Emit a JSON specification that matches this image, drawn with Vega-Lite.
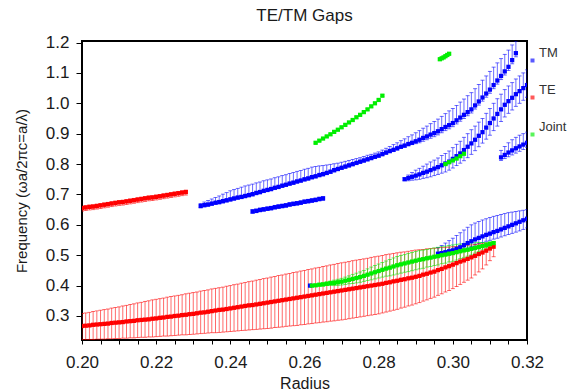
{
"$schema": "https://vega.github.io/schema/vega-lite/v6.json",
"width": 445, "height": 299,
"autosize": "none",
"padding": {"left": 82, "top": 41, "right": 45, "bottom": 52},
"background": "white",
"title": {"text": "TE/TM Gaps", "fontSize": 17, "fontWeight": "normal", "font": "Liberation Sans", "color": "#1a1a1a", "offset": 9},
"config": {"view": {"stroke": "#000", "strokeWidth": 2}, "font": "Liberation Sans",
  "legend": {"padding": 0, "symbolType": "square", "symbolSize": 16, "symbolStrokeWidth": 0,
    "labelFont": "Liberation Sans", "labelFontSize": 13, "labelColor": "#333", "labelLimit": 0},
  "axisY": {"grid": false, "domain": false,
    "values": [0.25,0.3,0.35,0.4,0.45,0.5,0.55,0.6,0.65,0.7,0.75,0.8,0.85,0.9,0.95,1.0,1.05,1.1,1.15,1.2],
    "labelExpr": "abs(datum.value*10 - round(datum.value*10)) < 0.001 && datum.value > 0.27 ? format(datum.value, '.1f') : ''",
    "labelOverlap": false, "labelFlush": false,
    "tickSize": {"condition": {"test": "abs(datum.value*10 - round(datum.value*10)) < 0.001", "value": 6}, "value": 3},
    "tickColor": "#000", "tickWidth": 1,
    "labelFont": "Liberation Sans", "labelFontSize": 17, "labelColor": "#1a1a1a", "labelPadding": 7,
    "titleFont": "Liberation Sans", "titleFontSize": 15, "titleFontWeight": "normal", "titleColor": "#1a1a1a", "titlePadding": 16}},
"data": {"values": [
{"s":"TE","x":0.200,"y":0.267,"lo":0.222,"hi":0.308},
{"s":"TE","x":0.201,"y":0.268,"lo":0.222,"hi":0.310},
{"s":"TE","x":0.202,"y":0.269,"lo":0.223,"hi":0.312},
{"s":"TE","x":0.203,"y":0.271,"lo":0.223,"hi":0.315},
{"s":"TE","x":0.204,"y":0.272,"lo":0.224,"hi":0.317},
{"s":"TE","x":0.205,"y":0.273,"lo":0.224,"hi":0.319},
{"s":"TE","x":0.206,"y":0.274,"lo":0.224,"hi":0.321},
{"s":"TE","x":0.207,"y":0.275,"lo":0.225,"hi":0.323},
{"s":"TE","x":0.208,"y":0.277,"lo":0.225,"hi":0.326},
{"s":"TE","x":0.209,"y":0.278,"lo":0.226,"hi":0.328},
{"s":"TE","x":0.210,"y":0.279,"lo":0.226,"hi":0.330},
{"s":"TE","x":0.211,"y":0.280,"lo":0.227,"hi":0.333},
{"s":"TE","x":0.212,"y":0.282,"lo":0.227,"hi":0.335},
{"s":"TE","x":0.213,"y":0.283,"lo":0.228,"hi":0.338},
{"s":"TE","x":0.214,"y":0.284,"lo":0.228,"hi":0.340},
{"s":"TE","x":0.215,"y":0.286,"lo":0.229,"hi":0.343},
{"s":"TE","x":0.216,"y":0.287,"lo":0.230,"hi":0.345},
{"s":"TE","x":0.217,"y":0.288,"lo":0.230,"hi":0.348},
{"s":"TE","x":0.218,"y":0.289,"lo":0.231,"hi":0.350},
{"s":"TE","x":0.219,"y":0.291,"lo":0.231,"hi":0.353},
{"s":"TE","x":0.220,"y":0.292,"lo":0.232,"hi":0.355},
{"s":"TE","x":0.221,"y":0.294,"lo":0.233,"hi":0.357},
{"s":"TE","x":0.222,"y":0.295,"lo":0.234,"hi":0.359},
{"s":"TE","x":0.223,"y":0.297,"lo":0.234,"hi":0.362},
{"s":"TE","x":0.224,"y":0.298,"lo":0.235,"hi":0.364},
{"s":"TE","x":0.225,"y":0.300,"lo":0.236,"hi":0.366},
{"s":"TE","x":0.226,"y":0.301,"lo":0.237,"hi":0.368},
{"s":"TE","x":0.227,"y":0.303,"lo":0.238,"hi":0.370},
{"s":"TE","x":0.228,"y":0.304,"lo":0.238,"hi":0.373},
{"s":"TE","x":0.229,"y":0.306,"lo":0.239,"hi":0.375},
{"s":"TE","x":0.230,"y":0.307,"lo":0.240,"hi":0.377},
{"s":"TE","x":0.231,"y":0.309,"lo":0.241,"hi":0.379},
{"s":"TE","x":0.232,"y":0.311,"lo":0.242,"hi":0.382},
{"s":"TE","x":0.233,"y":0.312,"lo":0.243,"hi":0.384},
{"s":"TE","x":0.234,"y":0.314,"lo":0.244,"hi":0.386},
{"s":"TE","x":0.235,"y":0.316,"lo":0.245,"hi":0.389},
{"s":"TE","x":0.236,"y":0.318,"lo":0.245,"hi":0.391},
{"s":"TE","x":0.237,"y":0.320,"lo":0.246,"hi":0.393},
{"s":"TE","x":0.238,"y":0.321,"lo":0.247,"hi":0.395},
{"s":"TE","x":0.239,"y":0.323,"lo":0.248,"hi":0.398},
{"s":"TE","x":0.240,"y":0.325,"lo":0.249,"hi":0.400},
{"s":"TE","x":0.241,"y":0.327,"lo":0.250,"hi":0.403},
{"s":"TE","x":0.242,"y":0.329,"lo":0.251,"hi":0.405},
{"s":"TE","x":0.243,"y":0.331,"lo":0.252,"hi":0.408},
{"s":"TE","x":0.244,"y":0.333,"lo":0.253,"hi":0.410},
{"s":"TE","x":0.245,"y":0.335,"lo":0.254,"hi":0.413},
{"s":"TE","x":0.246,"y":0.336,"lo":0.255,"hi":0.415},
{"s":"TE","x":0.247,"y":0.338,"lo":0.256,"hi":0.418},
{"s":"TE","x":0.248,"y":0.340,"lo":0.257,"hi":0.420},
{"s":"TE","x":0.249,"y":0.342,"lo":0.258,"hi":0.423},
{"s":"TE","x":0.250,"y":0.344,"lo":0.259,"hi":0.425},
{"s":"TE","x":0.251,"y":0.346,"lo":0.260,"hi":0.428},
{"s":"TE","x":0.252,"y":0.348,"lo":0.262,"hi":0.430},
{"s":"TE","x":0.253,"y":0.350,"lo":0.263,"hi":0.433},
{"s":"TE","x":0.254,"y":0.352,"lo":0.264,"hi":0.435},
{"s":"TE","x":0.255,"y":0.354,"lo":0.266,"hi":0.438},
{"s":"TE","x":0.256,"y":0.356,"lo":0.267,"hi":0.440},
{"s":"TE","x":0.257,"y":0.358,"lo":0.268,"hi":0.443},
{"s":"TE","x":0.258,"y":0.360,"lo":0.269,"hi":0.445},
{"s":"TE","x":0.259,"y":0.362,"lo":0.271,"hi":0.448},
{"s":"TE","x":0.260,"y":0.364,"lo":0.272,"hi":0.450},
{"s":"TE","x":0.261,"y":0.366,"lo":0.274,"hi":0.453},
{"s":"TE","x":0.262,"y":0.368,"lo":0.275,"hi":0.455},
{"s":"TE","x":0.263,"y":0.370,"lo":0.277,"hi":0.458},
{"s":"TE","x":0.264,"y":0.372,"lo":0.278,"hi":0.460},
{"s":"TE","x":0.265,"y":0.374,"lo":0.280,"hi":0.463},
{"s":"TE","x":0.266,"y":0.376,"lo":0.281,"hi":0.465},
{"s":"TE","x":0.267,"y":0.378,"lo":0.283,"hi":0.468},
{"s":"TE","x":0.268,"y":0.380,"lo":0.284,"hi":0.470},
{"s":"TE","x":0.269,"y":0.382,"lo":0.286,"hi":0.473},
{"s":"TE","x":0.270,"y":0.384,"lo":0.287,"hi":0.475},
{"s":"TE","x":0.271,"y":0.386,"lo":0.289,"hi":0.477},
{"s":"TE","x":0.272,"y":0.388,"lo":0.291,"hi":0.479},
{"s":"TE","x":0.273,"y":0.390,"lo":0.293,"hi":0.482},
{"s":"TE","x":0.274,"y":0.392,"lo":0.295,"hi":0.484},
{"s":"TE","x":0.275,"y":0.394,"lo":0.297,"hi":0.486},
{"s":"TE","x":0.276,"y":0.396,"lo":0.299,"hi":0.488},
{"s":"TE","x":0.277,"y":0.398,"lo":0.301,"hi":0.490},
{"s":"TE","x":0.278,"y":0.400,"lo":0.303,"hi":0.493},
{"s":"TE","x":0.279,"y":0.402,"lo":0.305,"hi":0.495},
{"s":"TE","x":0.280,"y":0.404,"lo":0.307,"hi":0.497},
{"s":"TE","x":0.281,"y":0.406,"lo":0.310,"hi":0.499},
{"s":"TE","x":0.282,"y":0.409,"lo":0.313,"hi":0.502},
{"s":"TE","x":0.283,"y":0.411,"lo":0.316,"hi":0.504},
{"s":"TE","x":0.284,"y":0.414,"lo":0.319,"hi":0.506},
{"s":"TE","x":0.285,"y":0.416,"lo":0.322,"hi":0.508},
{"s":"TE","x":0.286,"y":0.419,"lo":0.326,"hi":0.510},
{"s":"TE","x":0.287,"y":0.421,"lo":0.329,"hi":0.511},
{"s":"TE","x":0.288,"y":0.424,"lo":0.333,"hi":0.513},
{"s":"TE","x":0.289,"y":0.426,"lo":0.336,"hi":0.515},
{"s":"TE","x":0.290,"y":0.429,"lo":0.340,"hi":0.517},
{"s":"TE","x":0.291,"y":0.432,"lo":0.344,"hi":0.518},
{"s":"TE","x":0.292,"y":0.436,"lo":0.349,"hi":0.519},
{"s":"TE","x":0.293,"y":0.439,"lo":0.353,"hi":0.521},
{"s":"TE","x":0.294,"y":0.443,"lo":0.358,"hi":0.522},
{"s":"TE","x":0.295,"y":0.446,"lo":0.362,"hi":0.523},
{"s":"TE","x":0.296,"y":0.451,"lo":0.368,"hi":0.524},
{"s":"TE","x":0.297,"y":0.455,"lo":0.373,"hi":0.525},
{"s":"TE","x":0.298,"y":0.460,"lo":0.379,"hi":0.526},
{"s":"TE","x":0.299,"y":0.464,"lo":0.384,"hi":0.527},
{"s":"TE","x":0.300,"y":0.469,"lo":0.390,"hi":0.528},
{"s":"TE","x":0.301,"y":0.474,"lo":0.397,"hi":0.529},
{"s":"TE","x":0.302,"y":0.479,"lo":0.404,"hi":0.530},
{"s":"TE","x":0.303,"y":0.483,"lo":0.411,"hi":0.532},
{"s":"TE","x":0.304,"y":0.488,"lo":0.418,"hi":0.533},
{"s":"TE","x":0.305,"y":0.493,"lo":0.425,"hi":0.534},
{"s":"TE","x":0.306,"y":0.498,"lo":0.435,"hi":0.535},
{"s":"TE","x":0.307,"y":0.504,"lo":0.445,"hi":0.537},
{"s":"TE","x":0.308,"y":0.509,"lo":0.455,"hi":0.538},
{"s":"TE","x":0.309,"y":0.515,"lo":0.468,"hi":0.540},
{"s":"TE","x":0.310,"y":0.522,"lo":0.482,"hi":0.541},
{"s":"TE","x":0.311,"y":0.528,"lo":0.495,"hi":0.543},
{"s":"TE","x":0.200,"y":0.655,"lo":0.645,"hi":0.661},
{"s":"TE","x":0.201,"y":0.657,"lo":0.647,"hi":0.663},
{"s":"TE","x":0.202,"y":0.659,"lo":0.649,"hi":0.665},
{"s":"TE","x":0.203,"y":0.660,"lo":0.650,"hi":0.666},
{"s":"TE","x":0.204,"y":0.662,"lo":0.652,"hi":0.668},
{"s":"TE","x":0.205,"y":0.664,"lo":0.654,"hi":0.670},
{"s":"TE","x":0.206,"y":0.666,"lo":0.656,"hi":0.672},
{"s":"TE","x":0.207,"y":0.668,"lo":0.658,"hi":0.674},
{"s":"TE","x":0.208,"y":0.670,"lo":0.660,"hi":0.676},
{"s":"TE","x":0.209,"y":0.672,"lo":0.662,"hi":0.678},
{"s":"TE","x":0.210,"y":0.674,"lo":0.664,"hi":0.680},
{"s":"TE","x":0.211,"y":0.675,"lo":0.665,"hi":0.681},
{"s":"TE","x":0.212,"y":0.677,"lo":0.667,"hi":0.683},
{"s":"TE","x":0.213,"y":0.679,"lo":0.669,"hi":0.685},
{"s":"TE","x":0.214,"y":0.681,"lo":0.671,"hi":0.687},
{"s":"TE","x":0.215,"y":0.683,"lo":0.673,"hi":0.689},
{"s":"TE","x":0.216,"y":0.685,"lo":0.675,"hi":0.691},
{"s":"TE","x":0.217,"y":0.687,"lo":0.677,"hi":0.693},
{"s":"TE","x":0.218,"y":0.689,"lo":0.679,"hi":0.695},
{"s":"TE","x":0.219,"y":0.690,"lo":0.680,"hi":0.696},
{"s":"TE","x":0.220,"y":0.692,"lo":0.682,"hi":0.698},
{"s":"TE","x":0.221,"y":0.694,"lo":0.684,"hi":0.700},
{"s":"TE","x":0.222,"y":0.696,"lo":0.686,"hi":0.702},
{"s":"TE","x":0.223,"y":0.698,"lo":0.688,"hi":0.704},
{"s":"TE","x":0.224,"y":0.700,"lo":0.690,"hi":0.706},
{"s":"TE","x":0.225,"y":0.702,"lo":0.692,"hi":0.708},
{"s":"TE","x":0.226,"y":0.704,"lo":0.694,"hi":0.710},
{"s":"TE","x":0.227,"y":0.706,"lo":0.696,"hi":0.712},
{"s":"TE","x":0.228,"y":0.708,"lo":0.698,"hi":0.714},
{"s":"TM","x":0.232,"y":0.662,"lo":0.656,"hi":0.670},
{"s":"TM","x":0.233,"y":0.665,"lo":0.659,"hi":0.675},
{"s":"TM","x":0.234,"y":0.667,"lo":0.661,"hi":0.680},
{"s":"TM","x":0.235,"y":0.670,"lo":0.664,"hi":0.685},
{"s":"TM","x":0.236,"y":0.673,"lo":0.667,"hi":0.690},
{"s":"TM","x":0.237,"y":0.675,"lo":0.669,"hi":0.695},
{"s":"TM","x":0.238,"y":0.678,"lo":0.672,"hi":0.701},
{"s":"TM","x":0.239,"y":0.681,"lo":0.675,"hi":0.706},
{"s":"TM","x":0.240,"y":0.684,"lo":0.678,"hi":0.712},
{"s":"TM","x":0.241,"y":0.687,"lo":0.681,"hi":0.716},
{"s":"TM","x":0.242,"y":0.690,"lo":0.684,"hi":0.720},
{"s":"TM","x":0.243,"y":0.692,"lo":0.686,"hi":0.724},
{"s":"TM","x":0.244,"y":0.695,"lo":0.689,"hi":0.728},
{"s":"TM","x":0.245,"y":0.698,"lo":0.692,"hi":0.731},
{"s":"TM","x":0.246,"y":0.701,"lo":0.695,"hi":0.734},
{"s":"TM","x":0.247,"y":0.705,"lo":0.699,"hi":0.738},
{"s":"TM","x":0.248,"y":0.708,"lo":0.702,"hi":0.741},
{"s":"TM","x":0.249,"y":0.712,"lo":0.706,"hi":0.745},
{"s":"TM","x":0.250,"y":0.715,"lo":0.709,"hi":0.748},
{"s":"TM","x":0.251,"y":0.718,"lo":0.712,"hi":0.751},
{"s":"TM","x":0.252,"y":0.722,"lo":0.716,"hi":0.755},
{"s":"TM","x":0.253,"y":0.725,"lo":0.719,"hi":0.758},
{"s":"TM","x":0.254,"y":0.729,"lo":0.723,"hi":0.762},
{"s":"TM","x":0.255,"y":0.732,"lo":0.726,"hi":0.765},
{"s":"TM","x":0.256,"y":0.736,"lo":0.730,"hi":0.769},
{"s":"TM","x":0.257,"y":0.739,"lo":0.733,"hi":0.772},
{"s":"TM","x":0.258,"y":0.743,"lo":0.737,"hi":0.776},
{"s":"TM","x":0.259,"y":0.746,"lo":0.740,"hi":0.779},
{"s":"TM","x":0.260,"y":0.750,"lo":0.744,"hi":0.783},
{"s":"TM","x":0.261,"y":0.753,"lo":0.747,"hi":0.786},
{"s":"TM","x":0.262,"y":0.757,"lo":0.751,"hi":0.790},
{"s":"TM","x":0.263,"y":0.760,"lo":0.754,"hi":0.792},
{"s":"TM","x":0.264,"y":0.764,"lo":0.758,"hi":0.794},
{"s":"TM","x":0.265,"y":0.767,"lo":0.761,"hi":0.795},
{"s":"TM","x":0.266,"y":0.771,"lo":0.765,"hi":0.797},
{"s":"TM","x":0.267,"y":0.775,"lo":0.769,"hi":0.799},
{"s":"TM","x":0.268,"y":0.780,"lo":0.774,"hi":0.801},
{"s":"TM","x":0.269,"y":0.784,"lo":0.778,"hi":0.803},
{"s":"TM","x":0.270,"y":0.788,"lo":0.782,"hi":0.806},
{"s":"TM","x":0.271,"y":0.792,"lo":0.786,"hi":0.809},
{"s":"TM","x":0.272,"y":0.796,"lo":0.790,"hi":0.812},
{"s":"TM","x":0.273,"y":0.800,"lo":0.794,"hi":0.815},
{"s":"TM","x":0.274,"y":0.804,"lo":0.798,"hi":0.818},
{"s":"TM","x":0.275,"y":0.808,"lo":0.802,"hi":0.821},
{"s":"TM","x":0.276,"y":0.812,"lo":0.806,"hi":0.825},
{"s":"TM","x":0.277,"y":0.816,"lo":0.810,"hi":0.829},
{"s":"TM","x":0.278,"y":0.820,"lo":0.814,"hi":0.832},
{"s":"TM","x":0.279,"y":0.824,"lo":0.818,"hi":0.836},
{"s":"TM","x":0.280,"y":0.828,"lo":0.822,"hi":0.840},
{"s":"TM","x":0.281,"y":0.833,"lo":0.827,"hi":0.846},
{"s":"TM","x":0.282,"y":0.838,"lo":0.832,"hi":0.852},
{"s":"TM","x":0.283,"y":0.843,"lo":0.837,"hi":0.858},
{"s":"TM","x":0.284,"y":0.847,"lo":0.841,"hi":0.864},
{"s":"TM","x":0.285,"y":0.852,"lo":0.846,"hi":0.870},
{"s":"TM","x":0.286,"y":0.857,"lo":0.851,"hi":0.877},
{"s":"TM","x":0.287,"y":0.861,"lo":0.855,"hi":0.883},
{"s":"TM","x":0.288,"y":0.866,"lo":0.860,"hi":0.890},
{"s":"TM","x":0.289,"y":0.870,"lo":0.864,"hi":0.896},
{"s":"TM","x":0.290,"y":0.875,"lo":0.867,"hi":0.903},
{"s":"TM","x":0.291,"y":0.880,"lo":0.870,"hi":0.910},
{"s":"TM","x":0.292,"y":0.886,"lo":0.875,"hi":0.918},
{"s":"TM","x":0.293,"y":0.891,"lo":0.880,"hi":0.925},
{"s":"TM","x":0.294,"y":0.897,"lo":0.885,"hi":0.933},
{"s":"TM","x":0.295,"y":0.902,"lo":0.890,"hi":0.940},
{"s":"TM","x":0.296,"y":0.908,"lo":0.896,"hi":0.948},
{"s":"TM","x":0.297,"y":0.915,"lo":0.903,"hi":0.957},
{"s":"TM","x":0.298,"y":0.922,"lo":0.910,"hi":0.966},
{"s":"TM","x":0.299,"y":0.928,"lo":0.916,"hi":0.975},
{"s":"TM","x":0.300,"y":0.935,"lo":0.923,"hi":0.983},
{"s":"TM","x":0.301,"y":0.944,"lo":0.932,"hi":0.993},
{"s":"TM","x":0.302,"y":0.953,"lo":0.941,"hi":1.004},
{"s":"TM","x":0.303,"y":0.962,"lo":0.950,"hi":1.014},
{"s":"TM","x":0.304,"y":0.971,"lo":0.959,"hi":1.025},
{"s":"TM","x":0.305,"y":0.980,"lo":0.968,"hi":1.035},
{"s":"TM","x":0.306,"y":0.993,"lo":0.981,"hi":1.048},
{"s":"TM","x":0.307,"y":1.006,"lo":0.994,"hi":1.062},
{"s":"TM","x":0.308,"y":1.019,"lo":1.007,"hi":1.076},
{"s":"TM","x":0.309,"y":1.032,"lo":1.020,"hi":1.090},
{"s":"TM","x":0.310,"y":1.045,"lo":1.033,"hi":1.105},
{"s":"TM","x":0.311,"y":1.060,"lo":1.048,"hi":1.119},
{"s":"TM","x":0.312,"y":1.075,"lo":1.063,"hi":1.133},
{"s":"TM","x":0.313,"y":1.090,"lo":1.078,"hi":1.147},
{"s":"TM","x":0.314,"y":1.105,"lo":1.093,"hi":1.161},
{"s":"TM","x":0.315,"y":1.120,"lo":1.108,"hi":1.175},
{"s":"TM","x":0.316,"y":1.142,"lo":1.130,"hi":1.192},
{"s":"TM","x":0.317,"y":1.165,"lo":1.153,"hi":1.205},
{"s":"TM","x":0.246,"y":0.644,"lo":0.638,"hi":0.650},
{"s":"TM","x":0.247,"y":0.646,"lo":0.640,"hi":0.652},
{"s":"TM","x":0.248,"y":0.649,"lo":0.643,"hi":0.655},
{"s":"TM","x":0.249,"y":0.651,"lo":0.645,"hi":0.657},
{"s":"TM","x":0.250,"y":0.653,"lo":0.647,"hi":0.659},
{"s":"TM","x":0.251,"y":0.655,"lo":0.649,"hi":0.661},
{"s":"TM","x":0.252,"y":0.658,"lo":0.652,"hi":0.664},
{"s":"TM","x":0.253,"y":0.660,"lo":0.654,"hi":0.666},
{"s":"TM","x":0.254,"y":0.662,"lo":0.656,"hi":0.668},
{"s":"TM","x":0.255,"y":0.664,"lo":0.658,"hi":0.670},
{"s":"TM","x":0.256,"y":0.667,"lo":0.661,"hi":0.673},
{"s":"TM","x":0.257,"y":0.669,"lo":0.663,"hi":0.675},
{"s":"TM","x":0.258,"y":0.671,"lo":0.665,"hi":0.677},
{"s":"TM","x":0.259,"y":0.673,"lo":0.667,"hi":0.679},
{"s":"TM","x":0.260,"y":0.676,"lo":0.670,"hi":0.682},
{"s":"TM","x":0.261,"y":0.678,"lo":0.672,"hi":0.684},
{"s":"TM","x":0.262,"y":0.680,"lo":0.674,"hi":0.686},
{"s":"TM","x":0.263,"y":0.682,"lo":0.676,"hi":0.688},
{"s":"TM","x":0.264,"y":0.685,"lo":0.679,"hi":0.691},
{"s":"TM","x":0.265,"y":0.687,"lo":0.681,"hi":0.693},
{"s":"TM","x":0.287,"y":0.750,"lo":0.746,"hi":0.755},
{"s":"TM","x":0.288,"y":0.754,"lo":0.745,"hi":0.764},
{"s":"TM","x":0.289,"y":0.758,"lo":0.747,"hi":0.772},
{"s":"TM","x":0.290,"y":0.762,"lo":0.748,"hi":0.780},
{"s":"TM","x":0.291,"y":0.766,"lo":0.750,"hi":0.786},
{"s":"TM","x":0.292,"y":0.771,"lo":0.753,"hi":0.793},
{"s":"TM","x":0.293,"y":0.775,"lo":0.755,"hi":0.800},
{"s":"TM","x":0.294,"y":0.780,"lo":0.758,"hi":0.807},
{"s":"TM","x":0.295,"y":0.785,"lo":0.762,"hi":0.813},
{"s":"TM","x":0.296,"y":0.790,"lo":0.766,"hi":0.820},
{"s":"TM","x":0.297,"y":0.796,"lo":0.770,"hi":0.828},
{"s":"TM","x":0.298,"y":0.802,"lo":0.774,"hi":0.835},
{"s":"TM","x":0.299,"y":0.808,"lo":0.780,"hi":0.843},
{"s":"TM","x":0.300,"y":0.817,"lo":0.787,"hi":0.854},
{"s":"TM","x":0.301,"y":0.826,"lo":0.795,"hi":0.865},
{"s":"TM","x":0.302,"y":0.835,"lo":0.803,"hi":0.875},
{"s":"TM","x":0.303,"y":0.846,"lo":0.811,"hi":0.888},
{"s":"TM","x":0.304,"y":0.857,"lo":0.821,"hi":0.900},
{"s":"TM","x":0.305,"y":0.868,"lo":0.832,"hi":0.913},
{"s":"TM","x":0.306,"y":0.880,"lo":0.844,"hi":0.925},
{"s":"TM","x":0.307,"y":0.893,"lo":0.857,"hi":0.938},
{"s":"TM","x":0.308,"y":0.905,"lo":0.869,"hi":0.950},
{"s":"TM","x":0.309,"y":0.920,"lo":0.882,"hi":0.967},
{"s":"TM","x":0.310,"y":0.935,"lo":0.895,"hi":0.983},
{"s":"TM","x":0.311,"y":0.950,"lo":0.910,"hi":1.000},
{"s":"TM","x":0.312,"y":0.965,"lo":0.925,"hi":1.015},
{"s":"TM","x":0.313,"y":0.980,"lo":0.940,"hi":1.030},
{"s":"TM","x":0.314,"y":0.995,"lo":0.955,"hi":1.045},
{"s":"TM","x":0.315,"y":1.007,"lo":0.967,"hi":1.057},
{"s":"TM","x":0.316,"y":1.018,"lo":0.978,"hi":1.068},
{"s":"TM","x":0.317,"y":1.030,"lo":0.990,"hi":1.080},
{"s":"TM","x":0.318,"y":1.040,"lo":1.000,"hi":1.090},
{"s":"TM","x":0.319,"y":1.050,"lo":1.010,"hi":1.100},
{"s":"TM","x":0.320,"y":1.060,"lo":1.020,"hi":1.110},
{"s":"TM","x":0.313,"y":0.822,"lo":0.812,"hi":0.845},
{"s":"TM","x":0.314,"y":0.830,"lo":0.818,"hi":0.858},
{"s":"TM","x":0.315,"y":0.838,"lo":0.824,"hi":0.870},
{"s":"TM","x":0.316,"y":0.845,"lo":0.830,"hi":0.880},
{"s":"TM","x":0.317,"y":0.852,"lo":0.836,"hi":0.888},
{"s":"TM","x":0.318,"y":0.858,"lo":0.842,"hi":0.895},
{"s":"TM","x":0.319,"y":0.864,"lo":0.848,"hi":0.900},
{"s":"TM","x":0.320,"y":0.870,"lo":0.854,"hi":0.905},
{"s":"TM","x":0.296,"y":0.505,"lo":0.495,"hi":0.525},
{"s":"TM","x":0.297,"y":0.507,"lo":0.497,"hi":0.532},
{"s":"TM","x":0.298,"y":0.510,"lo":0.499,"hi":0.540},
{"s":"TM","x":0.299,"y":0.513,"lo":0.501,"hi":0.548},
{"s":"TM","x":0.300,"y":0.516,"lo":0.503,"hi":0.556},
{"s":"TM","x":0.301,"y":0.521,"lo":0.507,"hi":0.565},
{"s":"TM","x":0.302,"y":0.526,"lo":0.511,"hi":0.574},
{"s":"TM","x":0.303,"y":0.533,"lo":0.517,"hi":0.583},
{"s":"TM","x":0.304,"y":0.540,"lo":0.523,"hi":0.592},
{"s":"TM","x":0.305,"y":0.546,"lo":0.529,"hi":0.600},
{"s":"TM","x":0.306,"y":0.552,"lo":0.534,"hi":0.606},
{"s":"TM","x":0.307,"y":0.557,"lo":0.538,"hi":0.611},
{"s":"TM","x":0.308,"y":0.562,"lo":0.542,"hi":0.616},
{"s":"TM","x":0.309,"y":0.567,"lo":0.546,"hi":0.620},
{"s":"TM","x":0.310,"y":0.571,"lo":0.549,"hi":0.624},
{"s":"TM","x":0.311,"y":0.576,"lo":0.553,"hi":0.628},
{"s":"TM","x":0.312,"y":0.580,"lo":0.556,"hi":0.631},
{"s":"TM","x":0.313,"y":0.585,"lo":0.560,"hi":0.634},
{"s":"TM","x":0.314,"y":0.590,"lo":0.564,"hi":0.637},
{"s":"TM","x":0.315,"y":0.595,"lo":0.568,"hi":0.640},
{"s":"TM","x":0.316,"y":0.600,"lo":0.572,"hi":0.642},
{"s":"TM","x":0.317,"y":0.605,"lo":0.576,"hi":0.644},
{"s":"TM","x":0.318,"y":0.610,"lo":0.580,"hi":0.646},
{"s":"TM","x":0.319,"y":0.615,"lo":0.585,"hi":0.648},
{"s":"TM","x":0.320,"y":0.620,"lo":0.590,"hi":0.650},
{"s":"TM","x":0.2615,"y":0.400,"lo":0.399,"hi":0.401},
{"s":"Joint","x":0.262,"y":0.400,"lo":0.398,"hi":0.402},
{"s":"Joint","x":0.263,"y":0.401,"lo":0.398,"hi":0.404},
{"s":"Joint","x":0.264,"y":0.403,"lo":0.399,"hi":0.407},
{"s":"Joint","x":0.265,"y":0.404,"lo":0.399,"hi":0.409},
{"s":"Joint","x":0.266,"y":0.406,"lo":0.400,"hi":0.412},
{"s":"Joint","x":0.267,"y":0.408,"lo":0.401,"hi":0.415},
{"s":"Joint","x":0.268,"y":0.409,"lo":0.400,"hi":0.418},
{"s":"Joint","x":0.269,"y":0.411,"lo":0.401,"hi":0.421},
{"s":"Joint","x":0.270,"y":0.413,"lo":0.402,"hi":0.424},
{"s":"Joint","x":0.271,"y":0.416,"lo":0.404,"hi":0.428},
{"s":"Joint","x":0.272,"y":0.419,"lo":0.406,"hi":0.432},
{"s":"Joint","x":0.273,"y":0.422,"lo":0.407,"hi":0.437},
{"s":"Joint","x":0.274,"y":0.425,"lo":0.409,"hi":0.441},
{"s":"Joint","x":0.275,"y":0.428,"lo":0.411,"hi":0.445},
{"s":"Joint","x":0.276,"y":0.432,"lo":0.414,"hi":0.450},
{"s":"Joint","x":0.277,"y":0.436,"lo":0.417,"hi":0.455},
{"s":"Joint","x":0.278,"y":0.440,"lo":0.419,"hi":0.461},
{"s":"Joint","x":0.279,"y":0.444,"lo":0.422,"hi":0.466},
{"s":"Joint","x":0.280,"y":0.448,"lo":0.425,"hi":0.471},
{"s":"Joint","x":0.281,"y":0.452,"lo":0.428,"hi":0.476},
{"s":"Joint","x":0.282,"y":0.456,"lo":0.431,"hi":0.481},
{"s":"Joint","x":0.283,"y":0.459,"lo":0.432,"hi":0.486},
{"s":"Joint","x":0.284,"y":0.463,"lo":0.435,"hi":0.491},
{"s":"Joint","x":0.285,"y":0.467,"lo":0.438,"hi":0.496},
{"s":"Joint","x":0.286,"y":0.470,"lo":0.441,"hi":0.499},
{"s":"Joint","x":0.287,"y":0.473,"lo":0.444,"hi":0.502},
{"s":"Joint","x":0.288,"y":0.476,"lo":0.446,"hi":0.506},
{"s":"Joint","x":0.289,"y":0.479,"lo":0.449,"hi":0.509},
{"s":"Joint","x":0.290,"y":0.482,"lo":0.452,"hi":0.512},
{"s":"Joint","x":0.291,"y":0.485,"lo":0.455,"hi":0.515},
{"s":"Joint","x":0.292,"y":0.487,"lo":0.457,"hi":0.517},
{"s":"Joint","x":0.293,"y":0.490,"lo":0.461,"hi":0.519},
{"s":"Joint","x":0.294,"y":0.492,"lo":0.463,"hi":0.521},
{"s":"Joint","x":0.295,"y":0.495,"lo":0.466,"hi":0.524},
{"s":"Joint","x":0.296,"y":0.497,"lo":0.468,"hi":0.526},
{"s":"Joint","x":0.297,"y":0.500,"lo":0.472,"hi":0.528},
{"s":"Joint","x":0.298,"y":0.502,"lo":0.474,"hi":0.530},
{"s":"Joint","x":0.299,"y":0.505,"lo":0.478,"hi":0.532},
{"s":"Joint","x":0.300,"y":0.507,"lo":0.480,"hi":0.534},
{"s":"Joint","x":0.301,"y":0.510,"lo":0.484,"hi":0.536},
{"s":"Joint","x":0.302,"y":0.513,"lo":0.489,"hi":0.537},
{"s":"Joint","x":0.303,"y":0.516,"lo":0.493,"hi":0.539},
{"s":"Joint","x":0.304,"y":0.518,"lo":0.497,"hi":0.539},
{"s":"Joint","x":0.305,"y":0.521,"lo":0.501,"hi":0.541},
{"s":"Joint","x":0.306,"y":0.524,"lo":0.507,"hi":0.541},
{"s":"Joint","x":0.307,"y":0.527,"lo":0.512,"hi":0.542},
{"s":"Joint","x":0.308,"y":0.530,"lo":0.518,"hi":0.542},
{"s":"Joint","x":0.309,"y":0.533,"lo":0.524,"hi":0.542},
{"s":"Joint","x":0.310,"y":0.537,"lo":0.530,"hi":0.544},
{"s":"Joint","x":0.311,"y":0.540,"lo":0.536,"hi":0.544},
{"s":"Joint","x":0.263,"y":0.870,"lo":0.867,"hi":0.873},
{"s":"Joint","x":0.264,"y":0.877,"lo":0.874,"hi":0.880},
{"s":"Joint","x":0.265,"y":0.884,"lo":0.881,"hi":0.887},
{"s":"Joint","x":0.266,"y":0.891,"lo":0.888,"hi":0.894},
{"s":"Joint","x":0.267,"y":0.898,"lo":0.895,"hi":0.901},
{"s":"Joint","x":0.268,"y":0.906,"lo":0.903,"hi":0.909},
{"s":"Joint","x":0.269,"y":0.913,"lo":0.910,"hi":0.916},
{"s":"Joint","x":0.270,"y":0.921,"lo":0.918,"hi":0.924},
{"s":"Joint","x":0.271,"y":0.929,"lo":0.926,"hi":0.932},
{"s":"Joint","x":0.272,"y":0.937,"lo":0.934,"hi":0.940},
{"s":"Joint","x":0.273,"y":0.945,"lo":0.942,"hi":0.948},
{"s":"Joint","x":0.274,"y":0.954,"lo":0.951,"hi":0.957},
{"s":"Joint","x":0.275,"y":0.962,"lo":0.959,"hi":0.965},
{"s":"Joint","x":0.276,"y":0.971,"lo":0.968,"hi":0.974},
{"s":"Joint","x":0.277,"y":0.980,"lo":0.977,"hi":0.983},
{"s":"Joint","x":0.278,"y":0.990,"lo":0.987,"hi":0.993},
{"s":"Joint","x":0.279,"y":1.000,"lo":0.997,"hi":1.003},
{"s":"Joint","x":0.280,"y":1.011,"lo":1.008,"hi":1.014},
{"s":"Joint","x":0.281,"y":1.025,"lo":1.022,"hi":1.028},
{"s":"Joint","x":0.2965,"y":1.145,"lo":1.142,"hi":1.148},
{"s":"Joint","x":0.297,"y":1.148,"lo":1.145,"hi":1.151},
{"s":"Joint","x":0.2975,"y":1.151,"lo":1.148,"hi":1.154},
{"s":"Joint","x":0.298,"y":1.155,"lo":1.152,"hi":1.158},
{"s":"Joint","x":0.2985,"y":1.159,"lo":1.156,"hi":1.162},
{"s":"Joint","x":0.299,"y":1.163,"lo":1.160,"hi":1.166},
{"s":"Joint","x":0.298,"y":0.800,"lo":0.797,"hi":0.803},
{"s":"Joint","x":0.299,"y":0.806,"lo":0.803,"hi":0.809},
{"s":"Joint","x":0.300,"y":0.812,"lo":0.809,"hi":0.815},
{"s":"Joint","x":0.301,"y":0.818,"lo":0.815,"hi":0.821},
{"s":"Joint","x":0.302,"y":0.826,"lo":0.823,"hi":0.829},
{"s":"Joint","x":0.303,"y":0.834,"lo":0.831,"hi":0.837}
]},
"encoding": {
  "x": {"field": "x", "type": "quantitative", "scale": {"domain": [0.2, 0.32], "nice": false, "zero": false},
    "axis": {"title": "Radius", "grid": false, "domain": false,
      "values": [0.2,0.205,0.21,0.215,0.22,0.225,0.23,0.235,0.24,0.245,0.25,0.255,0.26,0.265,0.27,0.275,0.28,0.285,0.29,0.295,0.3,0.305,0.31,0.315,0.32],
      "labelExpr": "abs(datum.value*50 - round(datum.value*50)) < 0.001 ? format(datum.value, '.2f') : ''",
      "labelOverlap": false, "labelFlush": false, "tickSize": 4, "tickColor": "#000", "tickWidth": 1,
      "labelFont": "Liberation Sans", "labelFontSize": 17, "labelColor": "#1a1a1a", "labelPadding": 10,
      "titleFont": "Liberation Sans", "titleFontSize": 16, "titleFontWeight": "normal", "titleColor": "#1a1a1a", "titlePadding": 5}},
  "color": {"field": "s", "type": "nominal", "scale": {"domain": ["TM", "TE", "Joint"], "range": ["#0000ff", "#ff0000", "#00ee00"]},
    "legend": {"orient": "none", "legendX": 437, "legendY": 13, "title": null, "rowPadding": 20,
      "symbolOffset": 7, "labelOffset": 0, "labelBaseline": "line-bottom", "labelLineHeight": 28}}
},
"layer": [
  {"mark": {"type": "rule", "strokeWidth": 0.9, "opacity": 0.65, "clip": true},
   "encoding": {
     "y": {"field": "lo", "type": "quantitative", "scale": {"domain": [0.221, 1.205], "nice": false, "zero": false}, "title": "Frequency (ωa/2πc=a/λ)"},
     "y2": {"field": "hi"}}},
  {"mark": {"type": "tick", "orient": "horizontal", "size": 4, "thickness": 0.9, "opacity": 0.65, "clip": true},
   "encoding": {"y": {"field": "lo", "type": "quantitative", "title": "Frequency (ωa/2πc=a/λ)"}}},
  {"mark": {"type": "tick", "orient": "horizontal", "size": 4, "thickness": 0.9, "opacity": 0.65, "clip": true},
   "encoding": {"y": {"field": "hi", "type": "quantitative", "title": "Frequency (ωa/2πc=a/λ)"}}},
  {"mark": {"type": "point", "shape": "square", "filled": true, "size": 18, "opacity": 1, "clip": true},
   "encoding": {"y": {"field": "y", "type": "quantitative", "title": "Frequency (ωa/2πc=a/λ)"}}}
]
}
